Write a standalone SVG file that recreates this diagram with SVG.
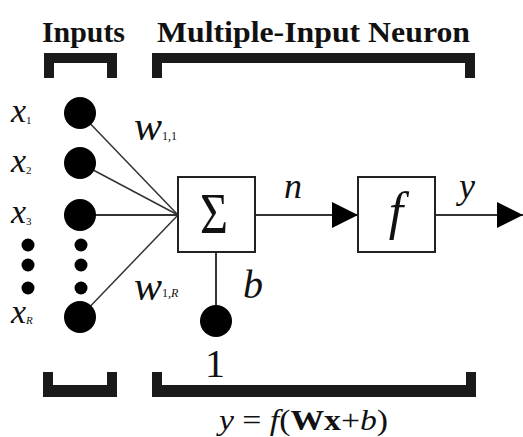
<svg xmlns="http://www.w3.org/2000/svg" width="523" height="437" viewBox="0 0 523 437">
<defs>
<style>
.br{fill:#1a1a1a}
.box{fill:#fff;stroke:#222;stroke-width:2}
.ln{stroke:#333;stroke-width:1.5;fill:none}
.dot{fill:#000}
</style>
<marker id="ah" markerWidth="26" markerHeight="26" refX="26" refY="13" markerUnits="userSpaceOnUse" orient="auto">
<path d="M0,0 L26,13 L0,26 Z" fill="#000"/>
</marker>
</defs>
<rect width="523" height="437" fill="#fff"/>
<g id="titles">
<text x="42" y="42" font-family="Liberation Serif" font-size="30" font-weight="bold" fill="#111" style="font-family:'Liberation Serif',serif" textLength="83" lengthAdjust="spacingAndGlyphs">Inputs</text>
<text x="157" y="42" font-family="Liberation Serif" font-size="30" font-weight="bold" fill="#111" style="font-family:'Liberation Serif',serif" textLength="313" lengthAdjust="spacingAndGlyphs">Multiple-Input Neuron</text>
</g>
<g id="brackets">
<path class="br" d="M44,53 H117 V78 H107 V63 H54 V78 H44 Z"/>
<path class="br" d="M152,53 H475 V78 H465 V63 H162 V78 H152 Z"/>
<path class="br" d="M43,397 H117 V372 H107 V385 H53 V372 H43 Z"/>
<path class="br" d="M152,397 H476 V372 H466 V385 H162 V372 H152 Z"/>
</g>
<g id="connectors">
<line class="ln" x1="80" y1="113" x2="178" y2="215"/>
<line class="ln" x1="80" y1="163" x2="178" y2="215"/>
<line class="ln" x1="80" y1="215" x2="178" y2="215" style="stroke-width:2.2"/>
<line class="ln" x1="80" y1="317" x2="178" y2="215"/>
<line class="ln" x1="216" y1="252" x2="216" y2="320" style="stroke-width:2"/>
<line class="ln" x1="255" y1="215" x2="358" y2="215" style="stroke-width:2" marker-end="url(#ah)"/>
<line class="ln" x1="435" y1="215" x2="523" y2="215" style="stroke-width:2" marker-end="url(#ah)"/>
</g>
<g id="inputs">
<circle class="dot" cx="80" cy="113" r="16"/>
<circle class="dot" cx="80" cy="163" r="16"/>
<circle class="dot" cx="80" cy="215" r="16"/>
<circle class="dot" cx="80" cy="317" r="16"/>
<circle class="dot" cx="81" cy="245" r="6.5"/>
<circle class="dot" cx="81" cy="265" r="6.5"/>
<circle class="dot" cx="81" cy="288" r="6.5"/>
<circle class="dot" cx="28" cy="245" r="6.5"/>
<circle class="dot" cx="28" cy="265" r="6.5"/>
<circle class="dot" cx="28" cy="288" r="6.5"/>
<text x="11" y="122" font-family="Liberation Serif" fill="#111" style="font-family:'Liberation Serif',serif"><tspan font-style="italic" font-size="34">x</tspan><tspan font-size="11" dy="2">1</tspan></text>
<text x="11" y="172" font-family="Liberation Serif" fill="#111" style="font-family:'Liberation Serif',serif"><tspan font-style="italic" font-size="34">x</tspan><tspan font-size="11" dy="2">2</tspan></text>
<text x="11" y="223" font-family="Liberation Serif" fill="#111" style="font-family:'Liberation Serif',serif"><tspan font-style="italic" font-size="34">x</tspan><tspan font-size="11" dy="2">3</tspan></text>
<text x="11" y="323" font-family="Liberation Serif" fill="#111" style="font-family:'Liberation Serif',serif"><tspan font-style="italic" font-size="34">x</tspan><tspan font-style="italic" font-size="11" dy="1">R</tspan></text>
</g>
<g id="weights">
<text x="134" y="140" font-family="Liberation Serif" fill="#111" style="font-family:'Liberation Serif',serif"><tspan font-style="italic" font-size="42">w</tspan><tspan font-size="12">1,1</tspan></text>
<text x="134" y="300" font-family="Liberation Serif" fill="#111" style="font-family:'Liberation Serif',serif"><tspan font-style="italic" font-size="42">w</tspan><tspan font-size="12" dy="-3">1,</tspan><tspan font-style="italic" font-size="12">R</tspan></text>
</g>
<g id="sum">
<rect class="box" x="178" y="177" width="77" height="75"/>
<text x="214" y="233" font-family="Liberation Serif" font-size="58" fill="#111" style="font-family:'Liberation Serif',serif" text-anchor="middle" textLength="28" lengthAdjust="spacingAndGlyphs">Σ</text>
</g>
<g id="bias">
<circle class="dot" cx="216" cy="321" r="16"/>
<text x="243" y="298" font-family="Liberation Serif" font-size="40" font-style="italic" fill="#111" style="font-family:'Liberation Serif',serif">b</text>
<text x="215" y="377" font-family="Liberation Serif" font-size="40" fill="#111" style="font-family:'Liberation Serif',serif" text-anchor="middle">1</text>
</g>
<g id="transfer">
<rect class="box" x="358" y="177" width="77" height="75"/>
<text x="396" y="229" font-family="Liberation Serif" font-size="52" font-style="italic" fill="#111" style="font-family:'Liberation Serif',serif" text-anchor="middle">f</text>
</g>
<g id="labels">
<text x="284" y="198" font-family="Liberation Serif" font-size="36" font-style="italic" fill="#111" style="font-family:'Liberation Serif',serif">n</text>
<text x="459" y="198" font-family="Liberation Serif" font-size="36" font-style="italic" fill="#111" style="font-family:'Liberation Serif',serif">y</text>
<text x="219" y="430" font-family="Liberation Serif" font-size="30" fill="#111" style="font-family:'Liberation Serif',serif" textLength="169" lengthAdjust="spacingAndGlyphs"><tspan font-style="italic">y</tspan> = <tspan font-style="italic">f</tspan>(<tspan font-weight="bold">Wx</tspan>+<tspan font-style="italic">b</tspan>)</text>
</g>
</svg>
